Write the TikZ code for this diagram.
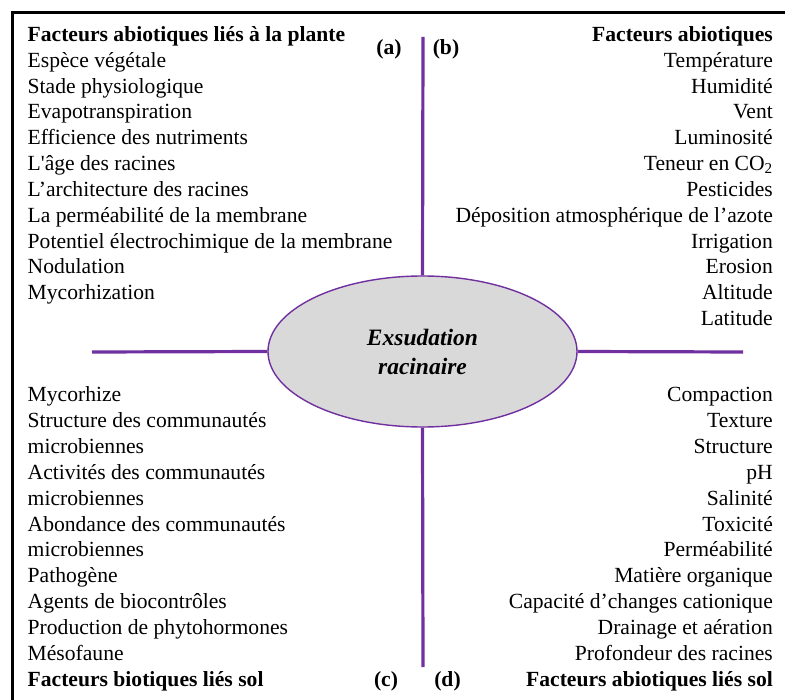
\documentclass[tikz,border=0pt]{standalone}
\usepackage{fontspec}
\setmainfont{Liberation Serif}[Ligatures=TeXOff]
\usetikzlibrary{shapes.geometric}
\definecolor{violetline}{HTML}{7030A0}
\definecolor{ellfill}{HTML}{D9D9D9}
\begin{document}
\begin{tikzpicture}[x=1pt,y=-1pt,
  txt/.style={inner sep=0pt,font=\fontsize{21.6}{26}\selectfont},
  lft/.style={txt,anchor=base west},
  rgt/.style={txt,anchor=base east},
  lab/.style={txt,anchor=base,font=\fontsize{21.6}{26}\selectfont\bfseries},
  axis/.style={draw=violetline,line width=3.2pt},
  centre/.style={ellipse,draw=violetline,line width=1.4pt,fill=ellfill,
    minimum width=309pt,minimum height=151pt,inner sep=0pt,align=center,
    font=\fontsize{23.5}{29}\selectfont\bfseries\itshape}]
\useasboundingbox (0,0) rectangle (785,700);
\fill[white] (0,0) rectangle (785,700);
% frame (only top and left visible)
\draw[line width=3.5pt] (12.5,720) -- (12.5,12.5) -- (800,12.5);

% centre ellipse
\node[centre] (ell) at (422.5,351.5) {Exsudation\\racinaire};

% axes
\coordinate (top) at (423,37);
\coordinate (bot) at (423,667);
\coordinate (lend) at (92,352);
\coordinate (rend) at (743,352);
\draw[axis] (top) -- (ell.north);
\draw[axis] (ell.south) -- (bot);
\draw[axis] (lend) -- (ell.west);
\draw[axis] (ell.east) -- (rend);

% labels
\node[lab] (la) at (389,55) {(a)};
\node[lab] (lb) at (446,55) {(b)};
\node[lab] (lc) at (386,686) {(c)};
\node[lab] (ld) at (447.5,686) {(d)};

% (a) plant factors
\foreach \t [count=\i from 0] in {
  {\bfseries Facteurs abiotiques liés à la plante},
  Espèce végétale, Stade physiologique, Evapotranspiration,
  Efficience des nutriments, L'âge des racines, L’architecture des racines,
  La perméabilité de la membrane, Potentiel électrochimique de la membrane,
  Nodulation, Mycorhization}
  \node[lft] (a\i) at (27.5,{41.5+25.82*\i}) {\t};

% (b) abiotic factors
\foreach \t [count=\i from 0] in {
  {\bfseries Facteurs abiotiques},
  Température, Humidité, Vent, Luminosité, {Teneur en CO\textsubscript{2}},
  Pesticides, Déposition atmosphérique de l’azote, Irrigation, Erosion,
  Altitude, Latitude}
  \node[rgt] (b\i) at (773,{41.5+25.82*\i}) {\t};

% (c) soil biotic factors
\foreach \t [count=\i from 0] in {
  Mycorhize, Structure des communautés, microbiennes,
  Activités des communautés, microbiennes,
  Abondance des communautés, microbiennes, Pathogène,
  Agents de biocontrôles, Production de phytohormones, Mésofaune,
  {\bfseries Facteurs biotiques liés sol}}
  \node[lft] (c\i) at (27.5,{402+25.82*\i}) {\t};

% (d) soil abiotic factors
\foreach \t [count=\i from 0] in {
  Compaction, Texture, Structure, pH, Salinité, Toxicité, Perméabilité,
  Matière organique, Capacité d’changes cationique, Drainage et aération,
  Profondeur des racines, {\bfseries Facteurs abiotiques liés sol}}
  \node[rgt] (d\i) at (773,{402+25.82*\i}) {\t};
\end{tikzpicture}
\end{document}
